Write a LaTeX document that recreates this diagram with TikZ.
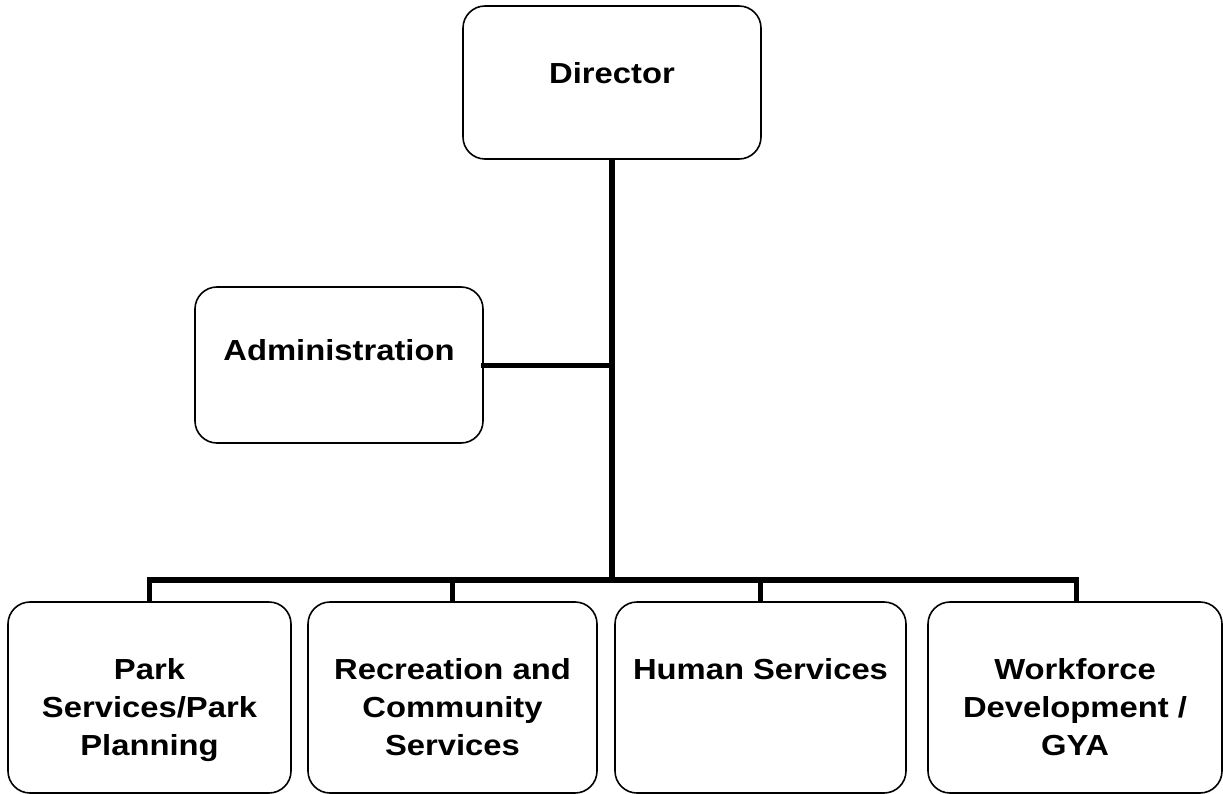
\documentclass[tikz,border=0pt]{standalone}
\usepackage{fontspec}
\setmainfont[FakeStretch=1.13]{Liberation Sans}
\begin{document}
\begin{tikzpicture}[x=1pt,y=-1pt,
  box/.style={draw=black, line width=1.6pt, rounded corners=22pt, inner sep=0pt},
  lbl/.style={anchor=north, inner sep=0pt, align=center, font=\bfseries\fontsize{29}{38}\selectfont},
  conn/.style={line width=5.5pt, line cap=rect}]
\useasboundingbox (0,0) rectangle (1223,794);
% boxes
\node[box, minimum width=298pt, minimum height=153pt] (dir) at (612,82.5) {};
\node[box, minimum width=288pt, minimum height=156pt] (adm) at (339,365) {};
\node[box, minimum width=283pt, minimum height=191pt] (b1) at (149.5,697.5) {};
\node[box, minimum width=289pt, minimum height=191pt] (b2) at (452.5,697.5) {};
\node[box, minimum width=291pt, minimum height=191pt] (b3) at (760.5,697.5) {};
\node[box, minimum width=294pt, minimum height=191pt] (b4) at (1075,697.5) {};
% labels
\node[lbl] (tdir) at ([yshift=-57pt]dir.north) {Director};
\node[lbl] (tadm) at ([yshift=-53pt]adm.north) {Administration};
\node[lbl] (t1) at ([yshift=-57pt]b1.north) {Park\\Services/Park\\Planning};
\node[lbl] (t2) at ([yshift=-57pt]b2.north) {Recreation and\\Community\\Services};
\node[lbl] (t3) at ([yshift=-57pt]b3.north) {Human Services};
\node[lbl] (t4) at ([yshift=-57pt]b4.north) {Workforce\\Development /\\GYA};
% connectors
\coordinate (bus) at (612,580);
\coordinate (busL) at (149.5,580);
\coordinate (busR) at (1076.5,580);
\coordinate (admJ) at (612,365.5);
\draw[line width=6pt] (dir.south) -- (bus);
\draw[conn] (adm.east |- admJ) -- (admJ);
\draw[conn, line cap=butt] ([xshift=-2.75pt]busL) -- ([xshift=2.75pt]busR);
\draw[conn, line cap=butt] (busL) -- (b1.north);
\draw[conn, line cap=butt] (b2.north |- bus) -- (b2.north);
\draw[conn, line cap=butt] (b3.north |- bus) -- (b3.north);
\draw[conn, line cap=butt] (busR) -- (busR |- b4.north);
\end{tikzpicture}
\end{document}
